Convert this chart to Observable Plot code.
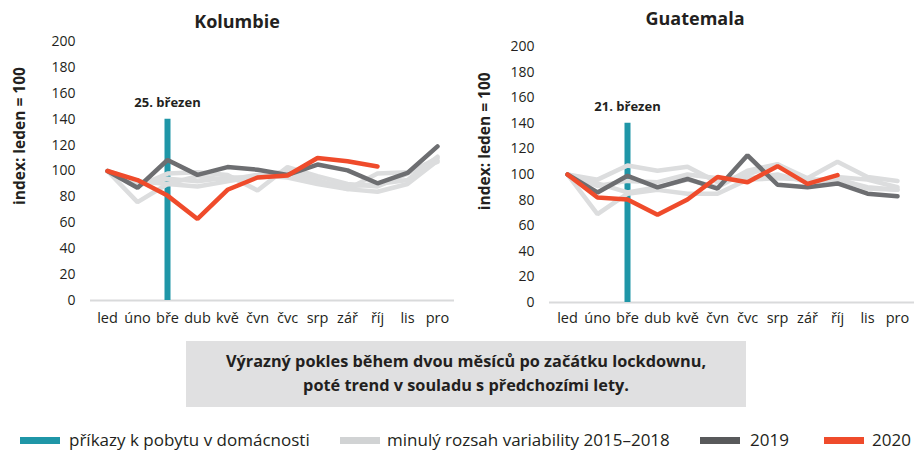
<!DOCTYPE html>
<html><head><meta charset="utf-8">
<script src="https://cdn.jsdelivr.net/npm/d3@7"></script>
<script src="https://cdn.jsdelivr.net/npm/@observablehq/plot@0.6"></script>
<style>
body{margin:0;background:#fff;font-family:"Open Sans",sans-serif;color:#231f20;}
#wrap{position:relative;width:914px;height:450px;overflow:hidden;}
.panel{position:absolute;top:0;width:457px;height:340px;}
.title{position:absolute;font-weight:700;font-size:18px;transform:translateX(-50%);white-space:nowrap;}
#box{position:absolute;left:186px;top:341px;width:560px;height:66px;background:#e0e0e1;text-align:center;font-weight:700;font-size:16.3px;line-height:24px;padding-top:8px;box-sizing:border-box;white-space:nowrap;}
.leg{position:absolute;top:431px;font-size:17px;white-space:nowrap;line-height:18px;}
.sw{position:absolute;top:437px;height:7px;width:40px;}
</style></head>
<body><div id="wrap">
<div class="panel" id="p1"></div>
<div class="panel" id="p2" style="left:457px"></div>
<div class="title" style="left:237px;top:9px">Kolumbie</div>
<div class="title" style="left:695px;top:6px">Guatemala</div>
<div id="box">Výrazný pokles během dvou měsíců po začátku lockdownu,<br>poté trend v souladu s předchozími lety.</div>
<div class="sw" style="left:20px;background:#1f96a7"></div><div class="leg" style="left:69px">příkazy k pobytu v domácnosti</div>
<div class="sw" style="left:340px;background:#d1d3d4"></div><div class="leg" style="left:387px">minulý rozsah variability 2015–2018</div>
<div class="sw" style="left:700px;background:#58595b"></div><div class="leg" style="left:750px">2019</div>
<div class="sw" style="left:824px;background:#ef4b2b"></div><div class="leg" style="left:872px">2020</div>
</div>
<script>
const months = ["led","úno","bře","dub","kvě","čvn","čvc","srp","zář","říj","lis","pro"];
const yTicks = [0,20,40,60,80,100,120,140,160,180,200];

const kolRange2015 = [100, 76, 90, 88, 92, 96, 100, 93, 86, 84, 90, 108];
const kolRange2016 = [100, 88, 98, 99, 97, 85, 103, 96, 90, 88, 98, 110];
const kolRange2017 = [100, 90, 94, 92, 95, 95, 97, 92, 88, 90, 93, 111];
const kolRange2018 = [100, 92, 90, 96, 93, 97, 95, 90, 86, 98, 99, 107];
const kol2019 = [100, 87, 108.5, 97, 103, 101, 97, 105, 100.5, 90.5, 98.5, 119];
const kol2020 = [100, 93, 81, 63, 85.5, 95, 96.5, 110, 107.5, 103.5];
const kolLockMonth = "bře";
const kolLockLabel = "25. březen";

const gtmRange2015 = [100, 96, 107, 103, 106, 94, 100, 108, 97, 110, 98, 95];
const gtmRange2016 = [100, 91, 95, 94, 100, 97, 97, 100, 94, 98, 96, 90];
const gtmRange2017 = [100, 69, 85, 88, 85, 85, 96, 97, 96, 96, 90, 88];
const gtmRange2018 = [100, 93, 86, 90, 96, 90, 103, 108, 93, 97, 89, 88];
const gtm2019 = [100, 86, 99, 90, 96.5, 89, 115, 92, 90, 93, 85, 83];
const gtm2020 = [100, 82, 80.5, 68.5, 80.5, 98, 94, 106.5, 92.7, 99.5];
const gtmLockMonth = "bře";
const gtmLockLabel = "21. březen";

const yTitle = "index: leden = 100";

const TEAL = "#1f96a7", LIGHT = "#dcddde", DARK = "#6d6e71", RED = "#ef4b2b";

function toRows(arr, series) { return arr.map((v, i) => ({month: months[i], value: v, series})); }

function panel(opts) {
  const lights = opts.lights.flatMap((a, k) => toRows(a, "r" + k));
  return Plot.plot({
    width: 457, height: 340,
    marginLeft: opts.ml, marginRight: opts.mr, marginTop: opts.mt, marginBottom: opts.mb,
    x: {type: "point", domain: months, padding: 0.5, label: null},
    y: {domain: [0, 200], label: null},
    style: {fontFamily: "Open Sans", fontSize: "14px", color: "#231f20", background: "transparent"},
    marks: [
      Plot.ruleY([0], {stroke: "#d9dadb", strokeWidth: 2}),
      Plot.axisY({ticks: yTicks, tickSize: 0, tickPadding: 15, label: null, fontSize: 14}),
      Plot.axisX({tickSize: 0, tickPadding: opts.tp, label: null, fontSize: 14.5}),
      Plot.ruleX([opts.lockMonth], {x: d => d, y1: 0, y2: 140, stroke: TEAL, strokeWidth: 6}),
      Plot.line(lights, {x: "month", y: "value", z: "series", stroke: LIGHT, strokeWidth: 4.5, strokeLinejoin: "miter"}),
      Plot.line(toRows(opts.y2019, "2019"), {x: "month", y: "value", stroke: DARK, strokeWidth: 4.5, strokeLinejoin: "miter"}),
      Plot.line(toRows(opts.y2020, "2020"), {x: "month", y: "value", stroke: RED, strokeWidth: 4.5, strokeLinejoin: "miter"}),
      Plot.text([opts.lockLabel], {x: () => opts.lockMonth, y: () => 153, text: d => d, fontWeight: "bold", fontSize: 13}),
      Plot.text([yTitle], {y: () => opts.ly, text: d => d, frameAnchor: "left", textAnchor: "middle", lineAnchor: "middle", dx: opts.ldx, rotate: -90, fontWeight: "bold", fontSize: 15.5})
    ]
  });
}

document.getElementById("p1").append(panel({
  lights: [kolRange2015, kolRange2016, kolRange2017, kolRange2018],
  y2019: kol2019, y2020: kol2020, lockMonth: kolLockMonth, lockLabel: kolLockLabel,
  ml: 90, mr: 3, mt: 41, mb: 40, tp: 12, ldx: -70, ly: 127
}));
document.getElementById("p2").append(panel({
  lights: [gtmRange2015, gtmRange2016, gtmRange2017, gtmRange2018],
  y2019: gtm2019, y2020: gtm2020, lockMonth: gtmLockMonth, lockLabel: gtmLockLabel,
  ml: 92, mr: 0, mt: 46, mb: 38, tp: 10, ldx: -64, ly: 126
}));
</script>
</body></html>
